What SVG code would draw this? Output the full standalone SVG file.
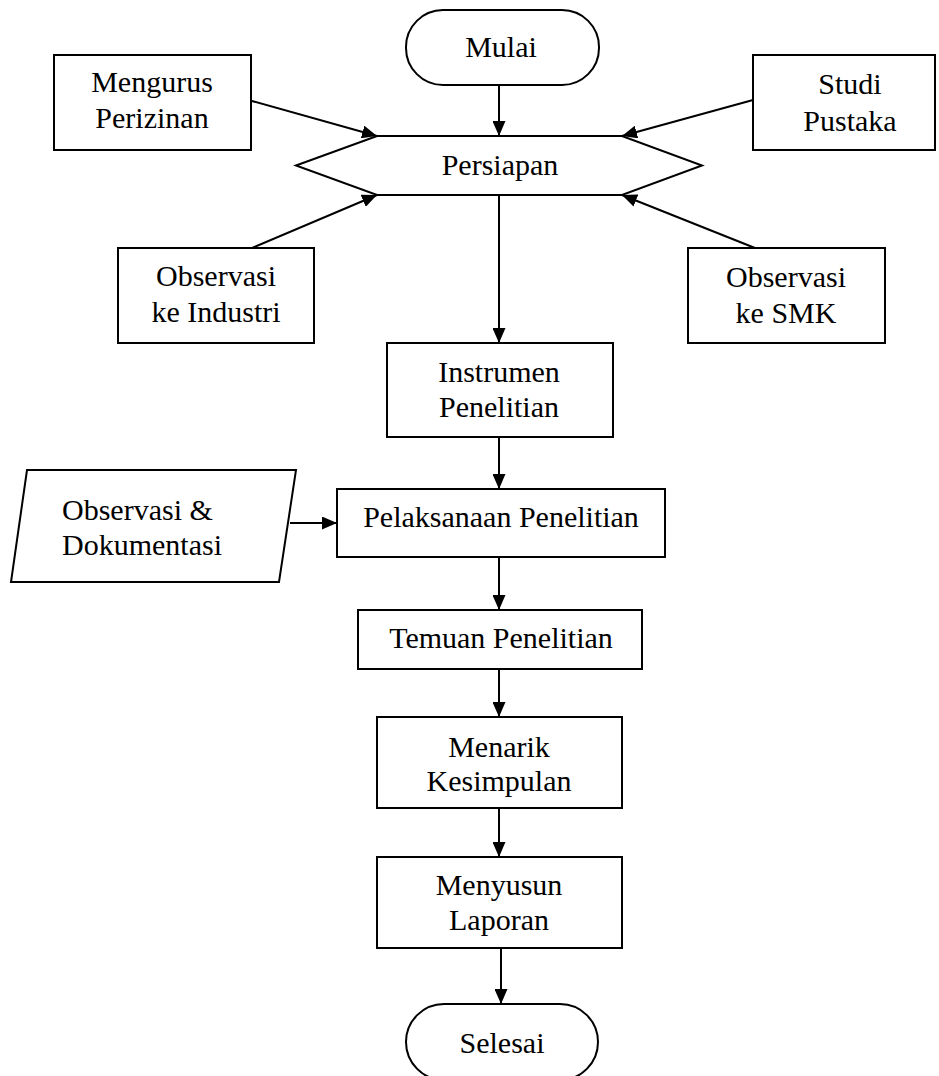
<svg xmlns="http://www.w3.org/2000/svg" width="939" height="1076" viewBox="0 0 939 1076">
<defs>
<marker id="ah" markerUnits="userSpaceOnUse" markerWidth="15" markerHeight="13" refX="15" refY="6.5" orient="auto">
<path d="M0,0 L15,6.5 L0,13 z" fill="#000"/>
</marker>
<style>
.s{fill:#fff;stroke:#000;stroke-width:2}
.t{font-family:"Liberation Serif","Times New Roman",serif;font-size:30px;fill:#000;text-anchor:middle}
.c line{stroke:#000;stroke-width:2;marker-end:url(#ah)}
</style>
</defs>
<rect width="939" height="1076" fill="#fff"/>
<g class="c" id="connectors">
<line x1="499" y1="85" x2="499" y2="136"/>
<line x1="252" y1="101" x2="377" y2="136"/>
<line x1="753" y1="100" x2="622" y2="136"/>
<line x1="252" y1="248" x2="377" y2="195"/>
<line x1="755" y1="248" x2="622" y2="195"/>
<line x1="499" y1="195" x2="499" y2="343"/>
<line x1="499" y1="437" x2="499" y2="489"/>
<line x1="290" y1="523" x2="337" y2="523"/>
<line x1="499" y1="557" x2="499" y2="610"/>
<line x1="499" y1="669" x2="499" y2="717"/>
<line x1="499" y1="808" x2="499" y2="857"/>
<line x1="501" y1="948" x2="501" y2="1004"/>
</g>
<g id="mulai"><rect class="s" x="406" y="10" width="193" height="75" rx="37"/><text class="t" x="501" y="57">Mulai</text></g>
<g id="mengurus"><rect class="s" x="54" y="55" width="197" height="95"/><text class="t" x="152" y="92">Mengurus</text><text class="t" x="152" y="128">Perizinan</text></g>
<g id="studi"><rect class="s" x="753" y="55" width="182" height="95"/><text class="t" x="850" y="94">Studi</text><text class="t" x="850" y="131">Pustaka</text></g>
<g id="persiapan"><polygon class="s" points="296,165.5 377,136 622,136 702,165.5 622,195 377,195"/><text class="t" x="500" y="175">Persiapan</text></g>
<g id="industri"><rect class="s" x="118" y="248" width="196" height="95"/><text class="t" x="216" y="286">Observasi</text><text class="t" x="216" y="322">ke Industri</text></g>
<g id="smk"><rect class="s" x="688" y="248" width="197" height="95"/><text class="t" x="786" y="287">Observasi</text><text class="t" x="786" y="323">ke SMK</text></g>
<g id="instrumen"><rect class="s" x="387" y="343" width="226" height="94"/><text class="t" x="499" y="382">Instrumen</text><text class="t" x="499" y="417">Penelitian</text></g>
<g id="obsdok"><polygon class="s" points="27,470 296,470 279,582 11,582"/><text class="t" x="62" y="520" style="text-anchor:start">Observasi &amp;</text><text class="t" x="62" y="555" style="text-anchor:start">Dokumentasi</text></g>
<g id="pelaksanaan"><rect class="s" x="337" y="489" width="328" height="68"/><text class="t" x="501" y="527">Pelaksanaan Penelitian</text></g>
<g id="temuan"><rect class="s" x="358" y="610" width="284" height="59"/><text class="t" x="501" y="648">Temuan Penelitian</text></g>
<g id="menarik"><rect class="s" x="377" y="717" width="245" height="91"/><text class="t" x="499" y="757">Menarik</text><text class="t" x="499" y="791">Kesimpulan</text></g>
<g id="menyusun"><rect class="s" x="377" y="857" width="245" height="91"/><text class="t" x="499" y="895">Menyusun</text><text class="t" x="499" y="930">Laporan</text></g>
<g id="selesai"><rect class="s" x="406" y="1004" width="192" height="76" rx="38"/><text class="t" x="502" y="1053">Selesai</text></g>
</svg>
